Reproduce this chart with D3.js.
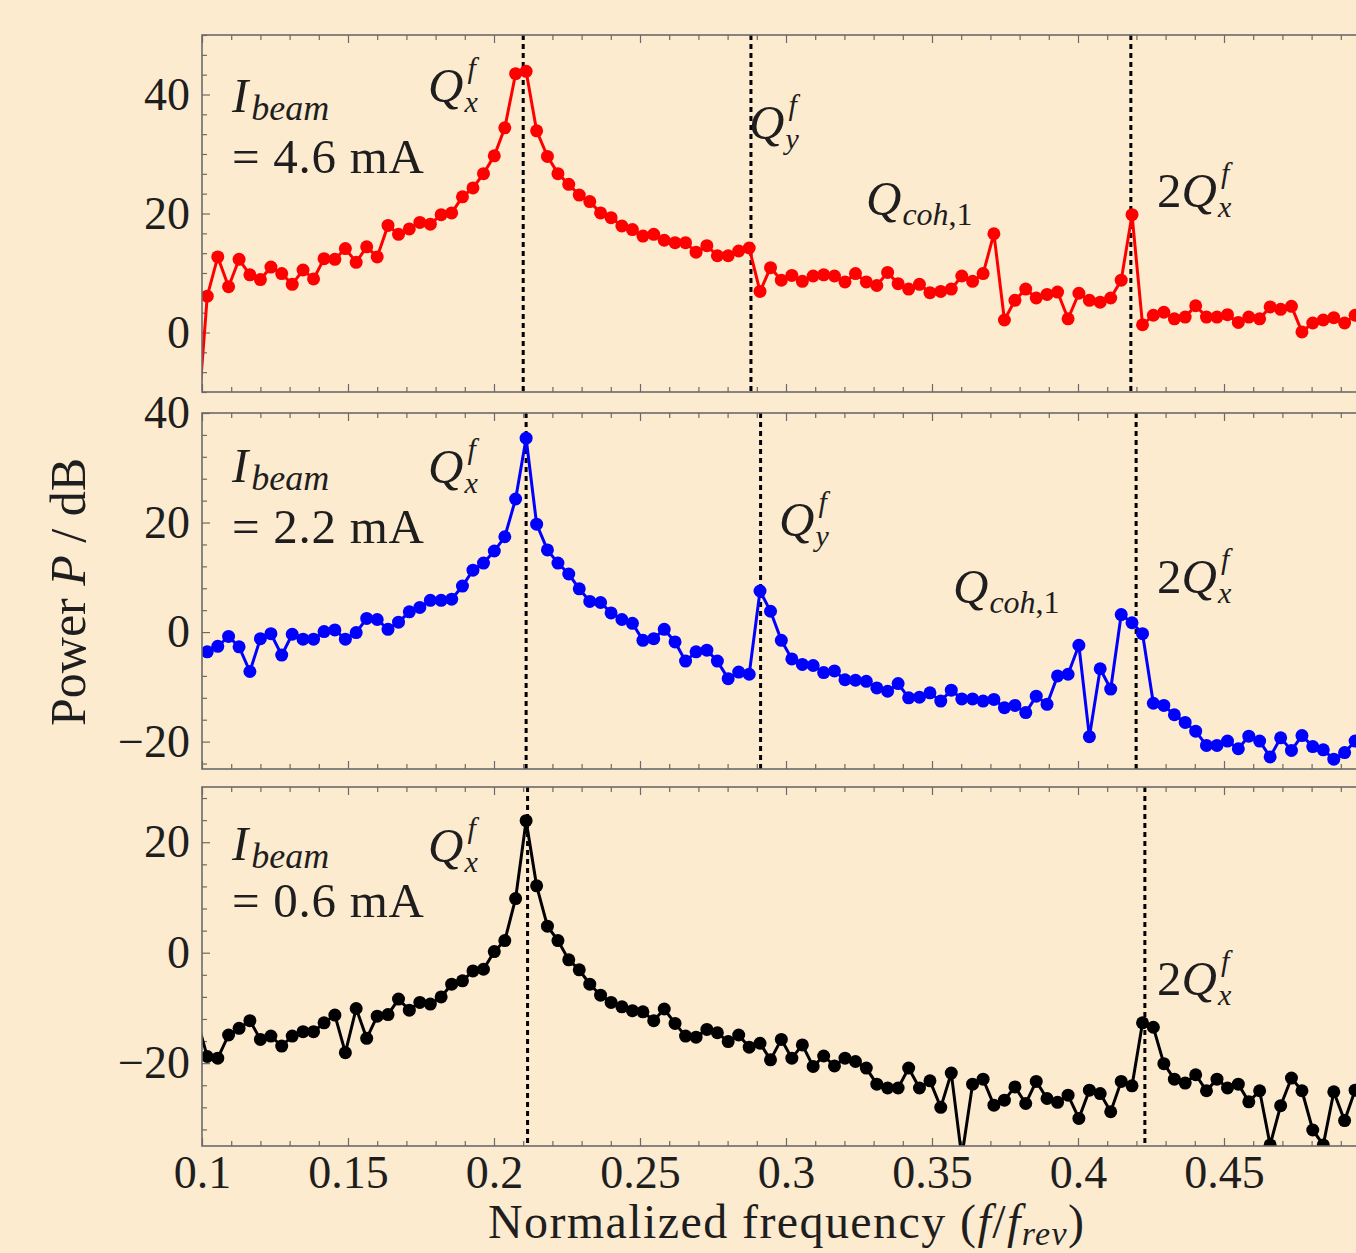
<!DOCTYPE html>
<html>
<head>
<meta charset="utf-8">
<script src="https://cdn.jsdelivr.net/npm/d3@7"></script>
<style>
  html, body { margin: 0; padding: 0; background: #fdebd0; overflow: hidden; }
  svg text { font-family: "Liberation Serif", "DejaVu Serif", serif; fill: #1e1e1e; }
</style>
</head>
<body>
<div id="chart"></div>
<script>
// Normalized frequency of each spectrum bin (f / f_rev)
const freq = [0.0982, 0.1018, 0.1054, 0.1091, 0.1127, 0.1164, 0.1200, 0.1236, 0.1273, 0.1309, 0.1346,
  0.1382, 0.1418, 0.1455, 0.1491, 0.1528, 0.1564, 0.1600, 0.1637, 0.1673, 0.1710,
  0.1746, 0.1782, 0.1819, 0.1855, 0.1892, 0.1928, 0.1964, 0.2001, 0.2037, 0.2074,
  0.2110, 0.2146, 0.2183, 0.2219, 0.2256, 0.2292, 0.2328, 0.2365, 0.2401, 0.2438,
  0.2474, 0.2510, 0.2547, 0.2583, 0.2620, 0.2656, 0.2692, 0.2729, 0.2765, 0.2802,
  0.2838, 0.2874, 0.2911, 0.2947, 0.2984, 0.3020, 0.3056, 0.3093, 0.3129, 0.3166,
  0.3202, 0.3238, 0.3275, 0.3311, 0.3348, 0.3384, 0.3420, 0.3457, 0.3493, 0.3530,
  0.3566, 0.3602, 0.3639, 0.3675, 0.3712, 0.3748, 0.3784, 0.3821, 0.3857, 0.3894,
  0.3930, 0.3966, 0.4003, 0.4039, 0.4076, 0.4112, 0.4148, 0.4185, 0.4221, 0.4258,
  0.4294, 0.4330, 0.4367, 0.4403, 0.4440, 0.4476, 0.4512, 0.4549, 0.4585, 0.4622,
  0.4658, 0.4694, 0.4731, 0.4767, 0.4804, 0.4840, 0.4876, 0.4913, 0.4949, 0.4986]

// Power in dB, I_beam = 4.6 mA
const powerHigh = [-17, 6.1, 12.7, 7.7, 12.3, 9.7, 8.9, 11.0, 9.9, 8.1, 10.5,
  9.0, 12.4, 12.3, 14.1, 11.8, 14.4, 12.7, 18.0, 16.5, 17.4,
  18.5, 18.2, 19.8, 20.1, 22.8, 24.3, 26.7, 29.7, 34.4, 43.5,
  43.9, 33.9, 29.6, 26.7, 24.9, 23.1, 22.0, 20.1, 19.3, 17.9,
  17.3, 16.2, 16.5, 15.5, 15.1, 15.1, 13.5, 14.6, 12.9, 12.9,
  13.7, 14.2, 6.9, 10.9, 8.8, 9.6, 8.6, 9.5, 9.7, 9.5,
  8.5, 9.9, 8.5, 7.9, 10.1, 8.2, 7.3, 8.1, 6.7, 6.9,
  7.3, 9.5, 8.6, 9.9, 16.6, 2.1, 5.4, 7.3, 5.8, 6.4,
  6.8, 2.3, 6.6, 5.4, 5.1, 5.8, 8.8, 19.8, 1.3, 2.9,
  3.4, 2.3, 2.6, 4.5, 2.6, 2.6, 3.0, 1.7, 2.6, 2.3,
  4.3, 3.9, 4.4, 0.1, 1.6, 2.1, 2.5, 1.6, 2.9, 2.5]

// Power in dB, I_beam = 2.2 mA
const powerMid = [-4, -3.6, -2.6, -0.8, -2.7, -7.2, -1.2, -0.3, -4.2, -0.4, -1.3,
  -1.3, 0.1, 0.4, -1.3, -0.1, 2.5, 2.3, 0.5, 1.8, 3.7,
  4.5, 5.8, 5.8, 6.0, 8.4, 11.3, 12.6, 14.8, 17.4, 24.3,
  35.4, 19.7, 15.0, 12.6, 10.6, 7.9, 5.6, 5.4, 3.5, 2.3,
  1.6, -1.5, -1.2, 0.5, -1.8, -5.3, -3.6, -3.3, -5.3, -8.5,
  -7.3, -7.7, 7.5, 3.8, -1.5, -4.9, -5.9, -6.1, -7.4, -7.1,
  -8.7, -8.8, -9.0, -10.2, -10.8, -9.4, -12.0, -11.9, -11.1, -12.6,
  -10.6, -12.2, -12.2, -12.6, -12.3, -13.8, -13.4, -14.7, -11.7, -13.2,
  -8.0, -7.7, -2.4, -19.1, -6.7, -10.4, 3.2, 1.7, -0.3, -13.0,
  -13.4, -15.1, -16.5, -18.1, -20.7, -20.7, -19.9, -21.3, -19.0, -19.9,
  -22.8, -19.3, -21.6, -18.9, -20.9, -21.5, -23.2, -22.0, -19.9, -19.0]

// Power in dB, I_beam = 0.6 mA
const powerLow = [-12, -18.8, -19.1, -14.9, -13.7, -12.3, -15.7, -15.1, -16.9, -15.1, -14.3,
  -14.3, -12.7, -11.3, -18.1, -10.1, -15.5, -11.5, -11.2, -8.4, -10.4,
  -9.0, -9.3, -8.0, -5.7, -5.1, -3.3, -3.0, 0.2, 2.2, 9.8,
  23.9, 12.1, 4.8, 2.2, -1.3, -3.1, -5.7, -7.7, -9.0, -9.8,
  -10.5, -10.7, -12.3, -10.2, -12.8, -15.1, -15.3, -13.9, -14.5, -16.1,
  -14.9, -17.1, -16.4, -19.4, -15.7, -19.1, -16.7, -20.6, -18.7, -20.5,
  -19.1, -19.7, -20.9, -23.8, -24.5, -24.5, -20.9, -24.5, -23.2, -28.0,
  -21.8, -37.0, -23.8, -22.9, -27.6, -26.7, -24.3, -27.3, -23.3, -26.4,
  -27.1, -25.8, -30.0, -24.9, -25.5, -28.8, -23.3, -24.1, -12.7, -13.5,
  -20.1, -22.9, -23.6, -22.1, -25.0, -22.9, -24.5, -23.8, -27.0, -25.0,
  -34.8, -27.7, -22.7, -25.0, -32.1, -34.8, -25.2, -30.4, -24.9, -26.0]

const currents = ['4.6', '2.2', '0.6']
const qxTune = [0.2100, 0.2110, 0.2115]
const qyTune = [0.2880, 0.2913, null]
const twoQxTune = [0.4181, 0.4199, 0.4229]
const xTicks = [0.1, 0.15, 0.2, 0.25, 0.3, 0.35, 0.4, 0.45]
const yTicksHigh = [0, 20, 40]
const yTicksMid = [-20, 0, 20, 40]
const yTicksLow = [-20, 0, 20]


const width = 1356, height = 1253
const left = 202, right = 1370
const fontSize = 46

const svg = d3.select('#chart').append('svg')
    .attr('width', width).attr('height', height)

svg.append('rect').attr('width', width).attr('height', height).attr('fill', '#fdebd0')

const x = d3.scaleLinear().domain([0.1, 0.5]).range([left, right])

const panels = [
    { values: powerHigh, color: '#ff0000', yDomain: [-10, 50], top: 35, bottom: 392, yTicks: yTicksHigh, minorStep: 10 / 3,
      labels: { ib: 112, eq: 173, qx: [428, 102], qy: [749, 139], coh: [866, 215], twoQx: [1157, 207] } },
    { values: powerMid, color: '#0000ff', yDomain: [-25, 40], top: 413, bottom: 769, yTicks: yTicksMid, minorStep: 4,
      labels: { ib: 482, eq: 543, qx: [428, 483], qy: [779, 536], coh: [953, 603], twoQx: [1157, 593] } },
    { values: powerLow, color: '#000000', yDomain: [-35, 30], top: 787, bottom: 1146, yTicks: yTicksLow, minorStep: 4,
      labels: { ib: 860, eq: 917, qx: [428, 862], twoQx: [1157, 995] } }
]

const fmtY = d => d < 0 ? '\u2212' + Math.abs(d) : String(d)

panels.forEach((p, k) => {

    let y = d3.scaleLinear().domain(p.yDomain).range([p.bottom, p.top])
    let g = svg.append('g').attr('class', 'panel')
    let clipId = 'clip' + k

    svg.append('clipPath').attr('id', clipId)
        .append('rect')
        .attr('x', left).attr('y', p.top)
        .attr('width', right - left).attr('height', p.bottom - p.top)

    // minor ticks
    let minor = []
    for (let v = Math.ceil(p.yDomain[0] / p.minorStep) * p.minorStep; v <= p.yDomain[1] + 1e-9; v += p.minorStep) {
        if (!p.yTicks.some(t => Math.abs(t - v) < 1e-6)) minor.push(v)
    }
    let xMinor = d3.range(10, 51).map(d => d / 100).filter(d => !xTicks.some(t => Math.abs(t - d) < 1e-6))

    g.append('g').attr('class', 'axis y-minor')
        .attr('transform', 'translate(' + left + ',0)')
        .call(d3.axisLeft(y).tickValues(minor).tickSize(-5).tickFormat(''))
    g.append('g').attr('class', 'axis y-major')
        .attr('transform', 'translate(' + left + ',0)')
        .call(d3.axisLeft(y).tickValues(p.yTicks).tickSize(-8).tickPadding(12).tickFormat(fmtY))

    g.append('g').attr('class', 'axis x-top')
        .attr('transform', 'translate(0,' + p.top + ')')
        .call(d3.axisTop(x).tickValues(xMinor).tickSize(-5).tickFormat(''))
    g.append('g').attr('class', 'axis x-top-major')
        .attr('transform', 'translate(0,' + p.top + ')')
        .call(d3.axisTop(x).tickValues(xTicks).tickSize(-8).tickFormat(''))

    g.append('g').attr('class', 'axis x-bottom')
        .attr('transform', 'translate(0,' + p.bottom + ')')
        .call(d3.axisBottom(x).tickValues(xMinor).tickSize(-5).tickFormat(''))
    g.append('g').attr('class', 'axis x-bottom-major')
        .attr('transform', 'translate(0,' + p.bottom + ')')
        .call(d3.axisBottom(x).tickValues(xTicks).tickSize(-8).tickPadding(9)
            .tickFormat(d => k === 2 ? String(+d.toFixed(2)) : ''))

    g.selectAll('.axis .domain').remove()
    g.selectAll('.axis line').attr('stroke', '#6a6a6a').attr('stroke-width', 1.2)
    g.selectAll('.axis text').attr('font-size', fontSize).attr('fill', '#1e1e1e')
        .attr('font-family', '"Liberation Serif", serif')

    // tune lines
    let tunes = [qxTune[k], qyTune[k], twoQxTune[k]].filter(d => d != null)
    g.append('g').selectAll('line')
        .data(tunes)
        .enter()
        .append('line')
        .attr('x1', d => x(d)).attr('x2', d => x(d))
        .attr('y1', p.top).attr('y2', p.bottom)
        .attr('stroke', '#000').attr('stroke-width', 3)
        .attr('stroke-dasharray', '5,4')

    // spectrum
    let pts = freq.map((f, i) => ({ f: f, v: p.values[i] }))
    let line = d3.line().x(d => x(d.f)).y(d => y(d.v))

    let plot = g.append('g').attr('clip-path', 'url(#' + clipId + ')')
    plot.append('path')
        .datum(pts)
        .attr('d', line)
        .attr('fill', 'none')
        .attr('stroke', p.color)
        .attr('stroke-width', 3)
        .attr('stroke-linejoin', 'miter')

    plot.selectAll('circle')
        .data(pts.filter(d => d.f >= 0.1))
        .enter()
        .append('circle')
        .attr('cx', d => x(d.f))
        .attr('cy', d => y(d.v))
        .attr('r', 6.5)
        .attr('fill', p.color)

    // frame
    g.append('rect')
        .attr('x', left).attr('y', p.top)
        .attr('width', right - left).attr('height', p.bottom - p.top)
        .attr('fill', 'none').attr('stroke', '#6a6a6a').attr('stroke-width', 1.6)

    // beam current
    let ib = g.append('text').attr('x', 232).attr('y', p.labels.ib).attr('font-size', fontSize + 3)
    ib.append('tspan').attr('font-style', 'italic').text('I')
    ib.append('tspan').attr('font-style', 'italic').attr('font-size', 36).attr('dy', 8).attr('dx', 3).text('beam')
    g.append('text').attr('x', 232).attr('y', p.labels.eq).attr('font-size', fontSize + 3)
        .attr('textLength', 192).attr('lengthAdjust', 'spacing')
        .text('= ' + currents[k] + ' mA')

    // tune labels
    tuneLabel(g, p.labels.qx[0], p.labels.qx[1], '', 'f', 'x')
    if (p.labels.qy) tuneLabel(g, p.labels.qy[0], p.labels.qy[1], '', 'f', 'y')
    if (p.labels.coh) tuneLabel(g, p.labels.coh[0], p.labels.coh[1], '', null, 'coh', ',1')
    tuneLabel(g, p.labels.twoQx[0], p.labels.twoQx[1], '2', 'f', 'x')
})

function tuneLabel(g, x0, y0, pre, sup, sub, subTail) {
    let main = g.append('text').attr('x', x0).attr('y', y0).attr('font-size', fontSize + 3)
    if (pre) main.append('tspan').text(pre)
    main.append('tspan').attr('font-style', 'italic').text('Q')
    let w = main.node().getComputedTextLength()
    if (sup) {
        g.append('text').attr('x', x0 + w + 4).attr('y', y0 - 24).attr('font-size', 30)
            .attr('font-style', 'italic').text(sup)
    }
    if (sub) {
        let s = g.append('text').attr('x', x0 + w + 1).attr('y', y0 + 10).attr('font-size', sup ? 30 : 32)
        s.append('tspan').attr('font-style', 'italic').text(sub)
        if (subTail) s.append('tspan').text(subTail)
    }
}

// x axis title
let xt = svg.append('text').attr('x', 786).attr('y', 1238).attr('font-size', fontSize + 2)
    .attr('text-anchor', 'middle').attr('textLength', 596).attr('lengthAdjust', 'spacing')
xt.append('tspan').text('Normalized frequency (')
xt.append('tspan').attr('font-style', 'italic').text('f')
xt.append('tspan').text('/')
xt.append('tspan').attr('font-style', 'italic').text('f')
xt.append('tspan').attr('font-style', 'italic').attr('font-size', 34).attr('dy', 7).text('rev')
xt.append('tspan').attr('dy', -7).text(')')

// y axis title
let yt = svg.append('text').attr('transform', 'translate(85,592) rotate(-90)')
    .attr('font-size', fontSize + 4).attr('text-anchor', 'middle')
yt.append('tspan').text('Power ')
yt.append('tspan').attr('font-style', 'italic').text('P')
yt.append('tspan').text(' / dB')
</script>
</body>
</html>
